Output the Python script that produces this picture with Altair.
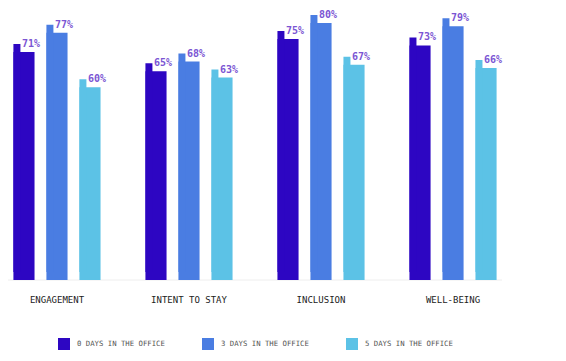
import altair as alt
import pandas as pd

categories = ["ENGAGEMENT", "INTENT TO STAY", "INCLUSION", "WELL-BEING"]
series = ["0 DAYS IN THE OFFICE", "3 DAYS IN THE OFFICE", "5 DAYS IN THE OFFICE"]
days0 = [71, 65, 75, 73]
days3 = [77, 68, 80, 79]
days5 = [60, 63, 67, 66]
colors = ["#2d06c2", "#4a7de2", "#5cc2e6"]

rows = []
for s, vals in zip(series, [days0, days3, days5]):
    for c, v in zip(categories, vals):
        rows.append({"category": c, "series": s, "value": v, "label": f"{v}%"})
df = pd.DataFrame(rows)

mono = "DejaVu Sans Mono"

x = alt.X("category:N", sort=categories, title=None,
          scale=alt.Scale(paddingInner=0.34, paddingOuter=0.041),
          axis=alt.Axis(domain=False, ticks=False, labelAngle=0, labelFont=mono,
                        labelFontSize=9, labelColor="#222", labelPadding=15))
xo = alt.XOffset("series:N", sort=series, scale=alt.Scale(paddingInner=0.36, paddingOuter=0))
xo_tab = alt.XOffset("series:N", sort=series,
                     scale=alt.Scale(paddingInner=0.788, paddingOuter=0.214, align=0))
y = alt.Y("value:Q", scale=alt.Scale(domain=[0, 80]), axis=None)
color = alt.Color("series:N", sort=series,
                  scale=alt.Scale(domain=series, range=colors),
                  legend=alt.Legend(title=None, orient="none", legendX=50, legendY=315,
                                    direction="horizontal", columns=3, columnPadding=37,
                                    symbolType="square", symbolSize=144, symbolStrokeWidth=0,
                                    labelFont=mono, labelFontSize=7.3, labelColor="#555",
                                    labelOffset=7, padding=0, labelLimit=200))

base = alt.Chart(df)

baseline = alt.Chart(pd.DataFrame({"v": [0]})).mark_rule(color="#eeeeee", strokeWidth=1).encode(
    y=alt.Y("v:Q", scale=alt.Scale(domain=[0, 80]), axis=None)
)

bars = base.mark_bar().encode(x=x, xOffset=xo, y=y, color=color)
labels = base.mark_text(align="left", baseline="alphabetic", dx=-2, dy=-5, font=mono,
                        fontSize=10, fontWeight="bold", color="#7b55d3").encode(
    x=x, xOffset=xo, y=y, text="label:N")
main = alt.layer(baseline, bars, labels)

tabs = base.mark_bar(yOffset=-8).encode(x=x, xOffset=xo_tab, y=y, color=color)

chart = alt.layer(main, tabs).resolve_scale(xOffset="independent").properties(
    width=494, height=257,
    autosize=alt.AutoSizeParams(type="none"),
    padding={"left": 0, "top": 15, "right": 50, "bottom": 80},
).configure_view(stroke=None)

chart.save("out.html", embed_options={"renderer": "svg", "actions": False})
